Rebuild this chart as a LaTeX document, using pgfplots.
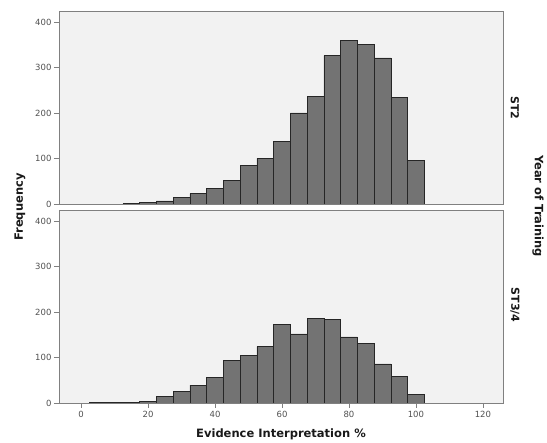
\documentclass[border=0pt]{standalone}
\usepackage{pgfplots}
\pgfplotsset{compat=1.18}
\usepackage{fontspec}
\setmainfont{DejaVu Sans}
\definecolor{barfill}{HTML}{737373}
\definecolor{bgc}{HTML}{F2F2F2}
\definecolor{framec}{HTML}{808080}
\definecolor{tickc}{HTML}{505050}
\pgfplotsset{
  hist/.style={
    anchor=south west,
    scale only axis, width=444pt, height=193pt,
    xmin=-6.6, xmax=126, ymin=0, ymax=424,
    axis background/.style={fill=bgc},
    axis line style={framec, line width=0.8pt},
    ytick={0,100,200,300,400},
    tick style={framec, line width=0.6pt},
    major tick length=5pt,
    tick align=outside,
    ytick pos=left, xtick pos=bottom,
    yticklabel style={font=\fontsize{8.5}{9}\selectfont, text=tickc, xshift=1pt},
    xticklabel style={font=\fontsize{8.5}{9}\selectfont, text=tickc},
    /pgf/number format/assume math mode=true,
    scaled ticks=false,
  },
}
\begin{document}
\begin{tikzpicture}
\path[use as bounding box] (0pt,0pt) rectangle (547pt,443pt);
% top panel ST2
\begin{axis}[hist, at={(59pt,239pt)}, xtick=\empty]
\addplot[ybar interval, fill=barfill, draw=black!85, line width=0.6pt] coordinates {
(12.5,1) (17.5,3) (22.5,7) (27.5,15) (32.5,23) (37.5,34) (42.5,52) (47.5,84)
(52.5,100) (57.5,138) (62.5,200) (67.5,236) (72.5,326) (77.5,359) (82.5,351)
(87.5,321) (92.5,235) (97.5,96) (102.5,96)};
\end{axis}
% bottom panel ST3/4
\begin{axis}[hist, at={(59pt,40pt)}, xtick={0,20,40,60,80,100,120}]
\addplot[ybar interval, fill=barfill, draw=black!85, line width=0.6pt] coordinates {
(2.5,2) (7.5,1) (12.5,2) (17.5,4) (22.5,15) (27.5,25) (32.5,39) (37.5,57)
(42.5,94) (47.5,104) (52.5,124) (57.5,172) (62.5,152) (67.5,185) (72.5,184)
(77.5,145) (82.5,131) (87.5,86) (92.5,59) (97.5,18) (102.5,18)};
\end{axis}
\node[rotate=90, font=\fontsize{11.5}{13}\selectfont\bfseries, text=black!90] at (20pt,236pt) {Frequency};
\node[font=\fontsize{11.5}{13}\selectfont\bfseries, text=black!90] at (281pt,9pt) {Evidence Interpretation \%};
\node[rotate=-90, font=\fontsize{11}{13}\selectfont\bfseries, text=black!90] at (515pt,335pt) {ST2};
\node[rotate=-90, font=\fontsize{11}{13}\selectfont\bfseries, text=black!90] at (515pt,138pt) {ST3/4};
\node[rotate=-90, font=\fontsize{11.5}{13}\selectfont\bfseries, text=black!90] at (538pt,237pt) {Year of Training};
\end{tikzpicture}
\end{document}
